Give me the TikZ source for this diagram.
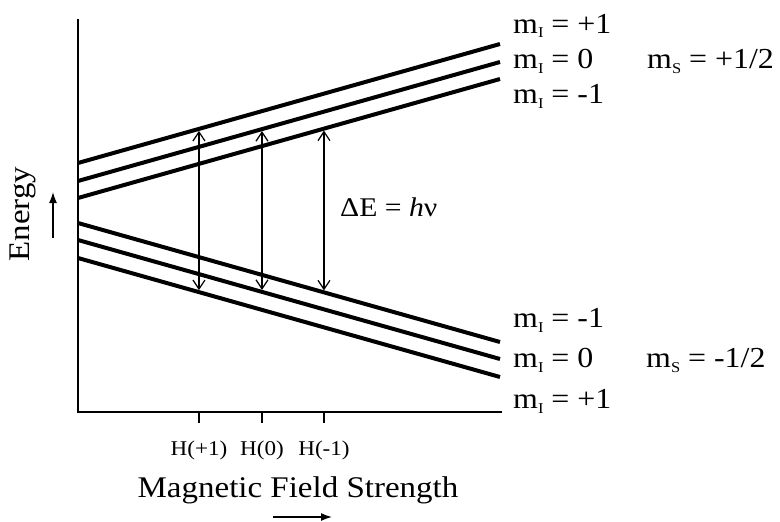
\documentclass[tikz,border=0pt]{standalone}
\usepackage{fontspec}
\setmainfont[FakeStretch=1.1]{Liberation Serif}
\usetikzlibrary{arrows.meta,calc}

\newcommand{\msub}[1]{m\raisebox{-5pt}{\fontsize{15}{15}\selectfont #1}}

\begin{document}
\begin{tikzpicture}[x=1pt,y=-1pt,
  level/.style={line width=4pt},
  axis/.style={line width=2pt},
  trans/.style={line width=1.2pt,{Straight Barb[length=9pt,width=12pt]}-{Straight Barb[length=9pt,width=12pt]},shorten <=2pt,shorten >=2pt},
  lbl/.style={font=\fontsize{29}{30}\selectfont,anchor=base west,inner sep=0pt},
  ticklbl/.style={font=\fontsize{21}{22}\selectfont,anchor=base,inner sep=0pt},
  title/.style={font=\fontsize{30}{32}\selectfont,anchor=base,inner sep=0pt},
  >={Latex[length=11pt,width=8pt]}]
\useasboundingbox (0,0) rectangle (780,522);

% axes
\coordinate (top) at (78,19);
\coordinate (orig) at (78,412);
\coordinate (xend) at (502,412);
\draw[axis] (top) -- (orig) -- (xend);

% m_s = +1/2 levels
\coordinate (u1l) at (78,163); \coordinate (u1r) at (500,44);
\coordinate (u2l) at (78,181); \coordinate (u2r) at (500,62);
\coordinate (u3l) at (78,198); \coordinate (u3r) at (500,79);
\draw[level] (u1l) -- (u1r);
\draw[level] (u2l) -- (u2r);
\draw[level] (u3l) -- (u3r);

% m_s = -1/2 levels
\coordinate (d1l) at (78,223); \coordinate (d1r) at (500,342);
\coordinate (d2l) at (78,240); \coordinate (d2r) at (500,359);
\coordinate (d3l) at (78,258); \coordinate (d3r) at (500,377);
\draw[level] (d1l) -- (d1r);
\draw[level] (d2l) -- (d2r);
\draw[level] (d3l) -- (d3r);

% transitions
\draw[trans] ($(u1l)!0.2867!(u1r)$) -- ($(d3l)!0.2867!(d3r)$);
\draw[trans] ($(u2l)!0.4360!(u2r)$) -- ($(d2l)!0.4360!(d2r)$);
\draw[trans] ($(u3l)!0.5829!(u3r)$) -- ($(d1l)!0.5829!(d1r)$);

% field ticks
\coordinate (t1) at (199,412);
\coordinate (t2) at (262,412);
\coordinate (t3) at (324,412);
\foreach \t in {t1,t2,t3}
  \draw[axis] (\t) -- ++(0,11);
\node[ticklbl] (h1) at (199,455) {H(+1)};
\node[ticklbl] (h2) at (262,455) {H(0)};
\node[ticklbl] (h3) at (324,455) {H(-1)};

\node[lbl,font=\fontsize{27}{30}\selectfont] (de) at (340,216) {ΔE = \textit{h}ν};

% level labels
\node[lbl] (lu1) at (513,33) {\msub{I} = +1};
\node[lbl] (lu2) at (513,68) {\msub{I} = 0};
\node[lbl] (lu3) at (513,103) {\msub{I} = -1};
\node[lbl] (su) at (647,68) {\msub{S} = +1/2};
\node[lbl] (ld1) at (513,327) {\msub{I} = -1};
\node[lbl] (ld2) at (513,367) {\msub{I} = 0};
\node[lbl] (ld3) at (513,408) {\msub{I} = +1};
\node[lbl] (sd) at (646,367) {\msub{S} = -1/2};

% axis titles
\node[title] (field) at (298,497) {Magnetic Field Strength};
\coordinate (fa) at (273,517);
\coordinate (fb) at (332,517);
\draw[->,line width=1.5pt] (fa) -- (fb);
\node[title,rotate=90] (energy) at (30,214) {Energy};
\coordinate (ea) at (53,238);
\coordinate (eb) at (53,192);
\draw[->,line width=1.5pt] (ea) -- (eb);
\end{tikzpicture}
\end{document}
